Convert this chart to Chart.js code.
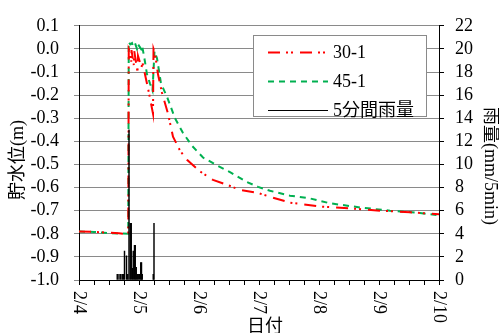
<!DOCTYPE html>
<html><head><meta charset="utf-8">
<script src="https://cdn.jsdelivr.net/npm/chart.js@4/dist/chart.umd.min.js"></script>
<style>html,body{margin:0;padding:0;background:#fff}#wrap{width:499px;height:333px}</style>
</head><body><div id="wrap"><canvas id="c" width="499" height="333"></canvas></div>
<script>
// ---- data (x in hours from 2/4 00:00) ----
const dateLabels = ['2/4','2/5','2/6','2/7','2/8','2/9','2/10'];
const seriesNames = ['30-1','45-1','5分間雨量'];
const xTitle = '日付', yTitle = '貯水位(m)', y2Title = '雨量(mm/5min)';

const hours30 = [0,6,12,16,19.7,19.9,20.3,20.9,21.0,21.9,22.1,23.4,23.6,25.0,25.4,27.6,29.6,29.8,30.4,31.6,33.2,35.6,37.6,40.4,43.2,48.4,53.6,59.2,64.4,71.2,76.4,84.4,96.4,108.4,120.4,132.4,144];
const level30 = [-0.79,-0.792,-0.795,-0.798,-0.802,0.0,-0.01,-0.055,-0.005,-0.07,-0.01,-0.1,-0.03,-0.08,-0.06,-0.17,-0.28,0.0,-0.02,-0.11,-0.19,-0.28,-0.38,-0.44,-0.48,-0.53,-0.567,-0.588,-0.61,-0.622,-0.64,-0.665,-0.682,-0.69,-0.70,-0.707,-0.716];

const hours45 = [0,6,12,19.7,19.9,20.5,21.2,21.6,22.4,23.2,23.6,24.8,25.2,26.0,27.2,28.4,29.4,30.2,31.2,32.8,35.2,38.4,41.6,45.2,49.6,55.2,60.4,67.2,71.6,76.4,84.4,92.4,100.4,112.4,124.4,136.4,144];
const level45 = [-0.79,-0.792,-0.797,-0.80,0.03,0.02,0.025,0.012,0.025,0.0,0.02,0.0,0.015,-0.03,-0.11,-0.15,-0.18,-0.01,-0.04,-0.15,-0.207,-0.30,-0.364,-0.419,-0.47,-0.504,-0.533,-0.576,-0.597,-0.614,-0.635,-0.647,-0.668,-0.686,-0.70,-0.71,-0.72];

const rainHours  = [15.3,16.0,16.7,17.3,17.8,18.2,19.0,19.5,20.0,20.5,20.9,21.4,21.7,22.2,22.5,22.9,23.3,23.7,24.2,24.7,25.0,25.3,29.7,30.0];
const rainValues = [0.5,0.5,0.5,0.5,0.5,2.5,2.1,0.5,13.0,4.9,4.9,1.0,2.5,3.0,3.0,1.1,0.5,0.5,0.5,1.5,1.5,0.5,0.5,4.9];

const pts = (xs, ys) => xs.map((x, i) => ({x, y: ys[i]}));

const FONT = '"Liberation Serif","Noto Sans CJK JP",serif';
const GRID = '#8a8a8a';

const overlay = {
  id: 'overlay',
  afterDraw(chart) {
    const ctx = chart.ctx, xs = chart.scales.x, ca = chart.chartArea;
    ctx.save();
    ctx.fillStyle = '#000';
    ctx.font = '18px ' + FONT;
    dateLabels.forEach((lab, i) => {
      const px = xs.getPixelForValue(i * 24);
      ctx.save();
      ctx.translate(px, ca.bottom + 11);
      ctx.rotate(Math.PI / 2);
      ctx.textAlign = 'left'; ctx.textBaseline = 'middle';
      ctx.fillText(lab, 0, 0);
      ctx.restore();
    });
    ctx.textAlign = 'center'; ctx.textBaseline = 'middle';
    ctx.fillText(xTitle, 265, 327);
    ctx.save(); ctx.translate(18, 160); ctx.rotate(-Math.PI / 2); ctx.fillText(yTitle, 0, 0); ctx.restore();
    ctx.save(); ctx.translate(490, 166); ctx.rotate(Math.PI / 2); ctx.fillText(y2Title, 0, 0); ctx.restore();

    // legend
    const bx = 253.5, by = 35.5, bw = 173, bh = 81;
    ctx.fillStyle = '#fff'; ctx.fillRect(bx, by, bw, bh);
    ctx.strokeStyle = GRID; ctx.lineWidth = 1; ctx.setLineDash([]);
    ctx.strokeRect(bx, by, bw, bh);
    const rows = [52, 81, 110];
    chart.data.datasets.forEach((ds, i) => {
      const y = rows[i];
      ctx.save();
      ctx.strokeStyle = ds.borderColor || ds.backgroundColor;
      ctx.lineWidth = ds.type === 'bar' ? 1 : ds.borderWidth;
      ctx.setLineDash(ds.borderDash || []);
      ctx.beginPath(); ctx.moveTo(268, y + 0.5); ctx.lineTo(328, y + 0.5); ctx.stroke();
      ctx.restore();
      ctx.fillStyle = '#000'; ctx.textAlign = 'left'; ctx.textBaseline = 'middle';
      ctx.font = '18px ' + FONT;
      ctx.fillText(ds.label, 333, y + 1);
    });
    ctx.restore();
  }
};

new Chart(document.getElementById('c'), {
  type: 'line',
  data: {
    datasets: [
      { label: seriesNames[0], data: pts(hours30, level30), yAxisID: 'y',
        borderColor: '#ff0000', borderWidth: 2, borderDash: [12, 6, 2, 3, 2, 7],
        pointRadius: 0, tension: 0, fill: false, order: 2 },
      { label: seriesNames[1], data: pts(hours45, level45), yAxisID: 'y',
        borderColor: '#00b050', borderWidth: 2, borderDash: [6, 5],
        pointRadius: 0, tension: 0, fill: false, order: 3 },
      { type: 'bar', label: seriesNames[2], data: pts(rainHours, rainValues), yAxisID: 'y2',
        backgroundColor: '#000', borderColor: '#000', borderWidth: 0, barThickness: 0.8, order: 1 }
    ]
  },
  options: {
    responsive: false, animation: false, devicePixelRatio: 1,
    layout: { padding: { top: 20, left: 0, right: 0, bottom: 0 } },
    plugins: { legend: { display: false }, tooltip: { enabled: false } },
    scales: {
      x: {
        type: 'linear', min: 0, max: 144, offset: false,
        ticks: { display: false, stepSize: 6, autoSkip: false },
        grid: { drawOnChartArea: false, offset: false, tickLength: 5, tickColor: '#000' },
        border: { color: '#000', width: 1 },
        afterFit: s => { s.height = 53; }
      },
      y: {
        type: 'linear', position: 'left', min: -1.0, max: 0.1,
        ticks: { stepSize: 0.1, autoSkip: false, padding: 15, color: '#000', font: { family: FONT, size: 18 },
                 callback: v => (Math.abs(v) < 1e-9 ? 0 : v).toFixed(1) },
        grid: { color: GRID, tickColor: GRID, tickLength: 5, lineWidth: 1 },
        border: { color: '#000', width: 1 },
        afterFit: s => { s.width = 79; }
      },
      y2: {
        type: 'linear', position: 'right', min: 0, max: 22,
        ticks: { stepSize: 2, autoSkip: false, padding: 11, color: '#000', font: { family: FONT, size: 18 } },
        grid: { drawOnChartArea: false, tickColor: '#000', tickLength: 5 },
        border: { color: '#000', width: 1 },
        afterFit: s => { s.width = 60; }
      }
    }
  },
  plugins: [overlay]
});
</script></body></html>
